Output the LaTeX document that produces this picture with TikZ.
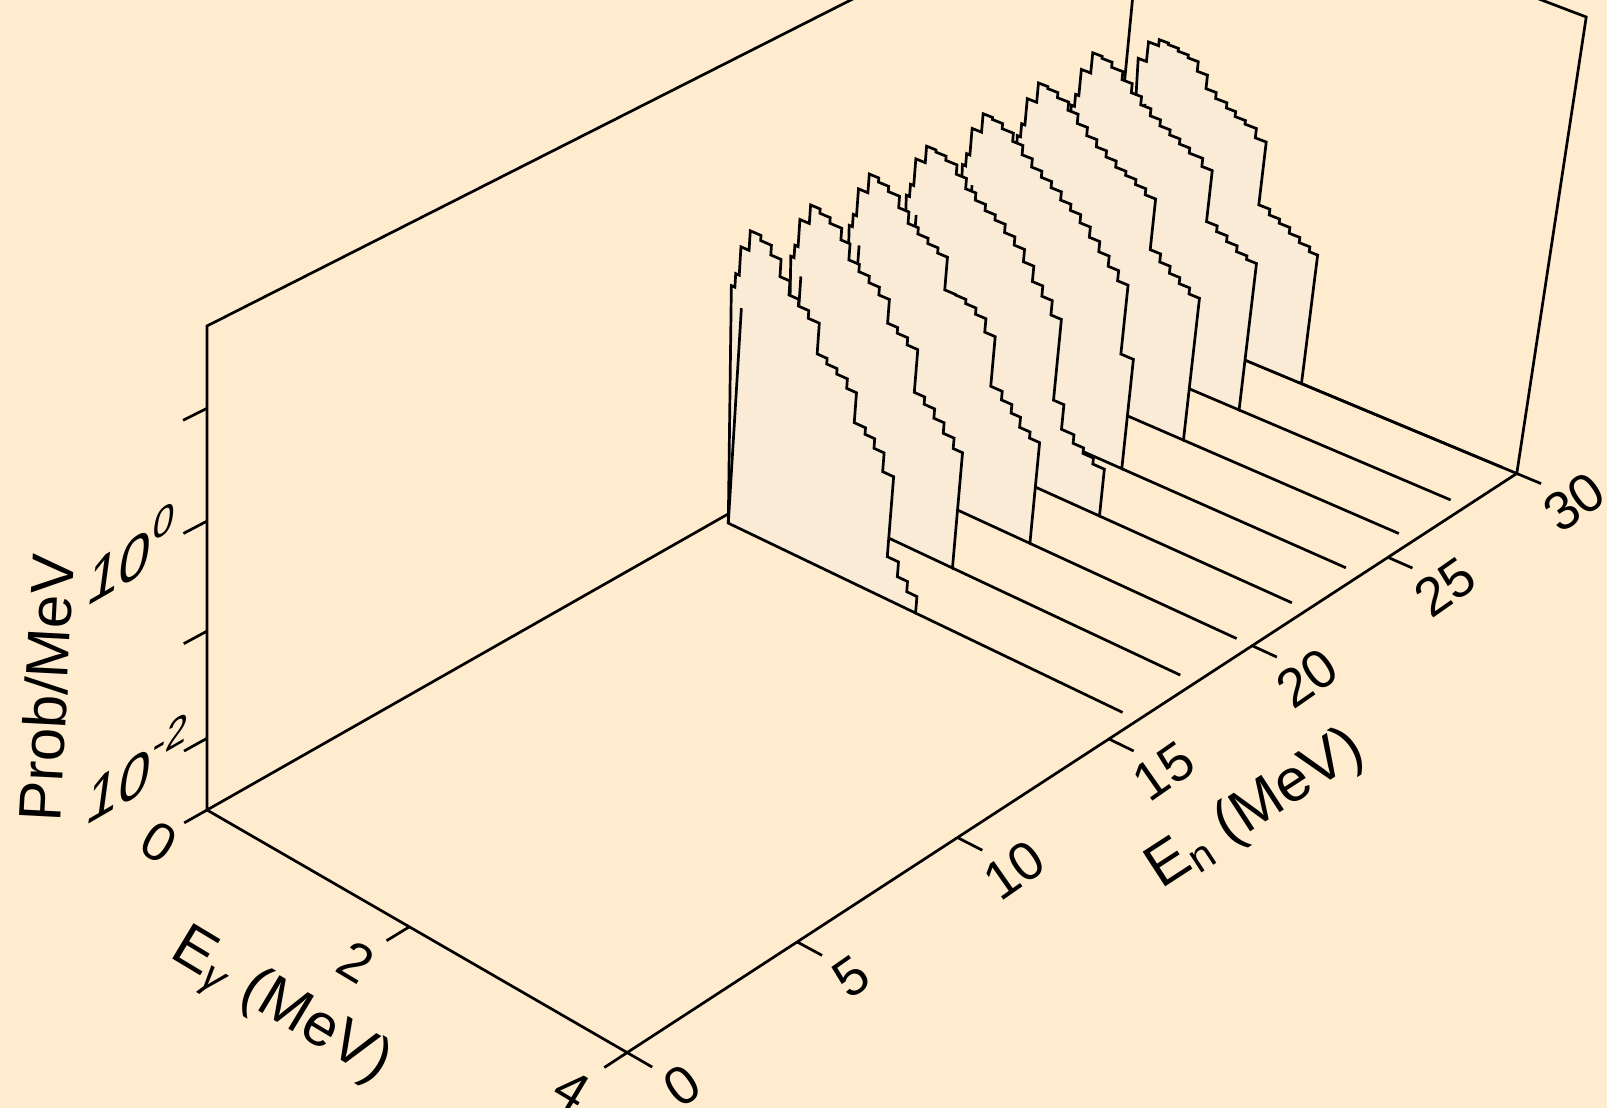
\documentclass[tikz,border=0pt]{standalone}
\usepackage{fontspec}
\setmainfont{Liberation Sans}

\definecolor{paper}{RGB}{255,235,205}
\definecolor{sheet}{RGB}{250,235,215}

% projection of (E_gamma, E_n, height in decades) onto the picture
\pgfkeys{/pr/.cd, g/.store in=\prG, n/.store in=\prN, z/.store in=\prZ}
\tikzdeclarecoordinatesystem{pr}{%
  \pgfkeys{/pr/.cd, g=0, n=0, z=0, #1}%
  \pgfmathsetmacro\prW{1-0.0177*\prG+0.005612*\prN-0.01258*\prZ}%
  \pgfmathsetmacro\prX{(207+93.95*\prG+36.07*\prN-2.604*\prZ)/\prW}%
  \pgfmathsetmacro\prY{(810+42.03*\prG-15.28*\prN-114.2*\prZ)/\prW}%
  \pgfpointxy{\prX}{\prY}%
}

% one spectrum: #1 E_n, #2/#3 first corner, #4 steps (g/z), #5 last E_gamma
\newcommand{\spectrum}[5]{%
  \pgfmathsetmacro\sgb{#2+0.11}%
  \filldraw[sheetstyle] (pr cs:g=\sgb,n=#1) -- (pr cs:g=#2,n=#1,z=#3)
    \foreach \sg/\sz [remember=\sz as \szl (initially #3)] in #4 {
      -- (pr cs:g=\sg,n=#1,z=\szl) -- (pr cs:g=\sg,n=#1,z=\sz)} -- cycle;
  \draw (pr cs:g=\sgb,n=#1) -- (pr cs:g=\sgb,n=#1,z=2.12);% inner edge
  \draw (pr cs:g=#5,n=#1) -- (pr cs:g=3.86,n=#1);% bare floor behind it
}
\newcommand{\sups}[1]{\raisebox{0.85ex}{\fontsize{21}{21}\selectfont #1}}

\begin{document}
\begin{tikzpicture}[x=0.5pt,y=-0.5pt,line width=1.35pt,
  sheetstyle/.style={fill=sheet,draw=black},
  num/.style={font=\fontsize{27}{30}\selectfont,inner sep=0pt},
  title/.style={font=\fontsize{30}{34}\selectfont,inner sep=0pt},
  walltext/.style={font=\fontsize{31}{35}\selectfont,inner sep=0pt,
    cm={0.91,0.525,0.14,1.04,(0,0)}}]
  \useasboundingbox (0,0) rectangle (1607,1108);
  \fill[paper] (0,0) rectangle (1607,1108);
  \clip (0,0) rectangle (1607,1108);

  % corners of the box
  \coordinate (A) at (pr cs:g=0,n=0);
  \coordinate (B) at (pr cs:g=4,n=0);
  \coordinate (C) at (pr cs:g=4,n=30);
  \coordinate (D) at (pr cs:g=0,n=30);
  \coordinate (At) at (pr cs:g=0,n=0,z=4.396);
  \coordinate (Ct) at (pr cs:g=4,n=30,z=4.396);
  \coordinate (Dt) at (1147,-150);% far top corner, above the page

  % back walls
  \draw (A) -- (At) -- (Dt) -- (D) -- cycle;
  \draw (D) -- (C) -- (Ct) -- (Dt);

  % spectra, one per neutron energy (g = E_gamma, z = decades above floor)
  \def\specA{0.015/2.42,0.05/2.69,0.13/2.875,0.235/2.826,0.34/2.734,0.44/2.571,0.537/2.438,0.632/2.374,0.733/2.301,0.84/2.008,0.936/1.954,1.036/1.902,1.139/1.811,1.233/1.524,1.341/1.461,1.434/1.369,1.531/1.188,1.636/0.408,1.744/0.263,1.842/0.163,1.94/0}
  \def\specB{0.012/2.39,0.044/2.65,0.137/2.827,0.231/2.786,0.332/2.733,0.448/2.622,0.537/2.468,0.639/2.399,0.741/2.337,0.843/2.263,0.945/2.036,1.042/1.982,1.143/1.913,1.245/1.50,1.345/1.43,1.446/1.340,1.544/1.238,1.648/1.137,1.737/0}
  \def\specC{0.012/2.39,0.044/2.65,0.137/2.83,0.23/2.79,0.33/2.74,0.44/2.63,0.54/2.52,0.64/2.46,0.74/2.41,0.84/2.36,0.935/2.045,1.04/2.04,1.14/2.0,1.24/1.94,1.34/1.81,1.44/1.327,1.55/1.243,1.65/1.159,1.74/1.06,1.84/1.0,1.936/0}
  \def\specD{0.012/2.39,0.044/2.65,0.137/2.81,0.23/2.79,0.33/2.75,0.44/2.66,0.54/2.56,0.64/2.49,0.74/2.43,0.84/2.38,0.94/2.30,1.04/2.22,1.14/2.10,1.24/1.95,1.34/1.85,1.44/1.71,1.54/0.915,1.64/0.67,1.76/0.585,1.86/0.53,1.96/0.47,2.07/0}
  \def\specE{0.012/2.40,0.044/2.66,0.137/2.84,0.23/2.82,0.33/2.77,0.44/2.69,0.54/2.60,0.64/2.52,0.74/2.46,0.84/2.40,0.94/2.32,1.04/2.26,1.14/2.18,1.24/2.08,1.34/1.98,1.44/1.88,1.54/1.78,1.64/1.10,1.76/0}
  \def\specF{0.012/2.41,0.044/2.67,0.137/2.86,0.23/2.84,0.33/2.79,0.44/2.71,0.54/2.62,0.64/2.54,0.74/2.47,0.84/2.41,0.94/2.35,1.04/2.31,1.14/2.26,1.24/2.20,1.34/1.70,1.44/1.62,1.54/1.55,1.64/1.49,1.74/1.43,1.84/0}
  \def\specG{0.012/2.42,0.044/2.68,0.137/2.88,0.23/2.86,0.33/2.81,0.44/2.73,0.54/2.64,0.64/2.56,0.74/2.49,0.84/2.43,0.94/2.38,1.04/2.33,1.14/2.28,1.27/2.20,1.37/1.693,1.473/1.636,1.575/1.579,1.677/1.521,1.777/1.485,1.872/0}
  \def\specH{0.18/2.73,0.28/2.79,0.37/2.775,0.47/2.747,0.57/2.719,0.67/2.624,0.77/2.49,0.87/2.431,0.98/2.379,1.07/2.329,1.17/2.293,1.28/2.20,1.385/1.572,1.492/1.514,1.593/1.472,1.696/1.414,1.798/1.362,1.90/1.313,1.98/0}
  \spectrum{30}{0.098}{2.535}{\specH}{1.98}
  \spectrum{28}{-0.02}{2.30}{\specG}{1.872}
  \spectrum{26}{-0.02}{2.28}{\specF}{1.84}
  \spectrum{24}{-0.02}{2.28}{\specE}{1.76}
  \spectrum{22}{-0.02}{2.27}{\specD}{2.07}
  \spectrum{20}{-0.02}{2.27}{\specC}{1.936}
  \spectrum{18}{-0.02}{2.27}{\specB}{1.737}
  \spectrum{16}{-0.02}{2.29}{\specA}{1.94}

  % front axes with ticks
  \draw (A) -- (B) -- (C);
  \foreach \z in {0.683,1.683,2.683,3.683}
    \draw (pr cs:z=\z) -- (pr cs:n=-0.65,z=\z);
  \foreach \g in {0,2,4}
    \draw (pr cs:g=\g) -- (pr cs:g=\g,n=-0.65);
  \foreach \n in {0,5,...,30}
    \draw (pr cs:g=4,n=\n) -- (pr cs:g=4.22,n=\n);

  % labels
  \node[title,rotate=87] (prob) at (46,688) {Prob/MeV};
  \node[walltext] (dec0) at (131,554) {10\sups{0}};
  \node[walltext] (decm2) at (137,769) {10\sups{-2}};
  \foreach \lab/\x/\y in {0/159/842,2/356/962,4/572/1090}
    \node[num,rotate=-31] (eg\lab) at (\x,\y) {\lab};
  \node[title,rotate=-31] (egtitle) at (280,1008) {E\textsubscript{\textit{γ}} (MeV)};
  \foreach \lab/\x/\y in {0/682/1086,5/851/977,10/1014/870,15/1164/771,20/1307/678,25/1445/587,30/1574/502}
    \node[num,rotate=35] (en\lab) at (\x,\y) {\lab};
  \node[title,rotate=33] (entitle) at (1256,810) {E\textsubscript{n} (MeV)};
\end{tikzpicture}
\end{document}
